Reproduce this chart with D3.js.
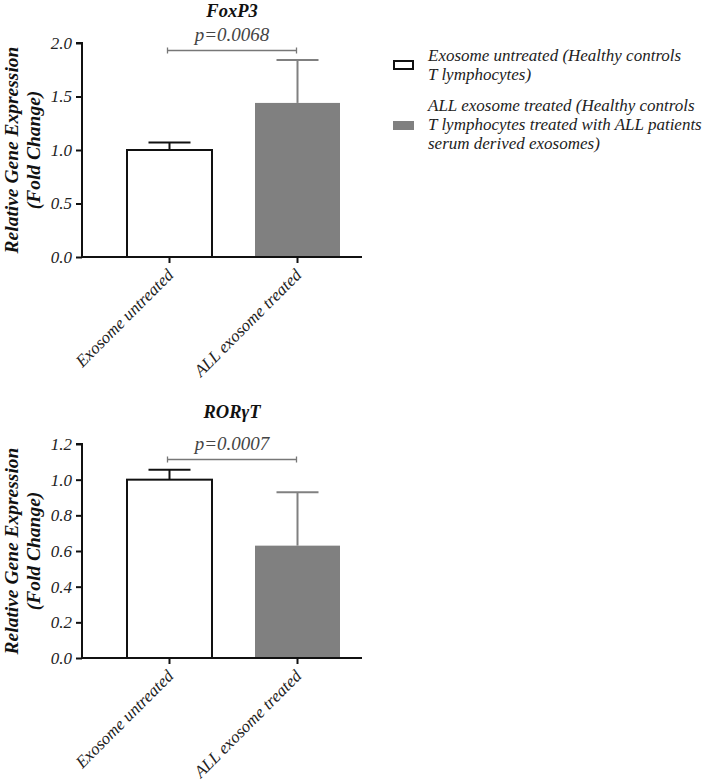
<!DOCTYPE html>
<html>
<head>
<meta charset="utf-8">
<script src="https://cdn.jsdelivr.net/npm/d3@7"></script>
<style>
  body { margin: 0; background: #fff; }
</style>
</head>
<body>
<svg id="chart" width="709" height="781"></svg>
<script>
var groups = ["Exosome untreated", "ALL exosome treated"];
var fillColors = ["#ffffff", "#808080"];

var foxp3Means = [1.0, 1.44];
var foxp3Errors = [0.07, 0.40];
var foxp3Ticks = [0, 0.5, 1.0, 1.5, 2.0];

var rorMeans = [1.0, 0.63];
var rorErrors = [0.055, 0.30];
var rorTicks = [0, 0.2, 0.4, 0.6, 0.8, 1.0, 1.2];

var legendLabels = [
  ["Exosome untreated (Healthy controls", "T lymphocytes)"],
  ["ALL exosome treated (Healthy controls", "T lymphocytes treated with ALL patients", "serum derived exosomes)"]
];

var FONT = "Liberation Serif";
var svg = d3.select("#chart");

function translate(x, y) {
  return "translate(" + x + "," + y + ")";
}

function serif(sel, size, bold) {
  return sel.attr("font-family", FONT)
    .attr("font-style", "italic")
    .attr("font-weight", bold ? "bold" : "normal")
    .attr("font-size", size);
}

var drawPanel = function(opts) {
  var x0 = 82, x1 = 362;
  var top = opts.top, bottom = opts.bottom;

  var xScale = d3.scaleBand()
    .domain(groups)
    .range([127, 340])
    .paddingInner(0.336)
    .paddingOuter(0);

  var yScale = d3.scaleLinear()
    .domain([0, opts.max])
    .range([bottom, top]);

  var g = svg.append("g");

  // bars
  g.selectAll(".bar")
    .data(groups)
    .enter()
    .append("rect")
    .attr("class", "bar")
    .attr("x", function(d) { return xScale(d); })
    .attr("width", xScale.bandwidth())
    .attr("y", function(d, i) { return yScale(opts.means[i]); })
    .attr("height", function(d, i) { return bottom - yScale(opts.means[i]); })
    .attr("fill", function(d, i) { return fillColors[i]; })
    .attr("stroke", function(d, i) { return i == 0 ? "#111" : "none"; })
    .attr("stroke-width", 2);

  // error bars (upper only)
  var errs = g.selectAll(".err")
    .data(groups)
    .enter()
    .append("g")
    .attr("class", "err")
    .attr("stroke", function(d, i) { return i == 0 ? "#111" : "#808080"; })
    .attr("stroke-width", 2);

  errs.append("line")
    .attr("x1", function(d) { return xScale(d) + xScale.bandwidth() / 2; })
    .attr("x2", function(d) { return xScale(d) + xScale.bandwidth() / 2; })
    .attr("y1", function(d, i) { return yScale(opts.means[i]); })
    .attr("y2", function(d, i) { return yScale(opts.means[i] + opts.errors[i]); });

  errs.append("line")
    .attr("x1", function(d) { return xScale(d) + xScale.bandwidth() / 2 - 21; })
    .attr("x2", function(d) { return xScale(d) + xScale.bandwidth() / 2 + 21; })
    .attr("y1", function(d, i) { return yScale(opts.means[i] + opts.errors[i]); })
    .attr("y2", function(d, i) { return yScale(opts.means[i] + opts.errors[i]); });

  // y axis
  var yAxis = d3.axisLeft(yScale)
    .tickValues(opts.ticks)
    .tickSize(6)
    .tickPadding(4)
    .tickFormat(d3.format(".1f"));

  var yg = g.append("g")
    .attr("transform", translate(x0, 0))
    .call(yAxis);
  yg.select(".domain").attr("stroke", "#111").attr("stroke-width", 2).attr("d", "M-6," + top + "H0V" + bottom);
  yg.selectAll(".tick line").attr("stroke", "#111").attr("stroke-width", 2);
  serif(yg.selectAll(".tick text"), 17).attr("fill", "#222");

  // x axis
  var xAxis = d3.axisBottom(xScale).tickSize(6).tickSizeOuter(0).tickFormat("");
  var xg = g.append("g")
    .attr("transform", translate(0, bottom))
    .call(xAxis);
  xg.select(".domain").attr("stroke", "#111").attr("stroke-width", 2).attr("d", "M" + (x0 - 1) + ",0H" + x1);
  xg.selectAll(".tick line").attr("stroke", "#111").attr("stroke-width", 2);

  serif(g.selectAll(".xlabel")
    .data(groups)
    .enter()
    .append("text")
    .attr("class", "xlabel")
    .attr("text-anchor", "end")
    .attr("fill", "#222")
    .attr("transform", function(d) {
      return translate(xScale(d) + xScale.bandwidth() / 2 + 5, bottom + 19) + " rotate(-45)";
    })
    .text(function(d) { return d; }), 17);

  // title
  serif(g.append("text")
    .attr("x", 232)
    .attr("y", opts.titleY)
    .attr("text-anchor", "middle")
    .attr("fill", "#111")
    .text(opts.title), 18.5, true);

  // significance bracket
  var bx1 = xScale(groups[0]) + xScale.bandwidth() / 2 - 2;
  var bx2 = xScale(groups[1]) + xScale.bandwidth() / 2 - 1;
  var by = opts.bracketY;
  g.append("path")
    .attr("d", "M" + bx1 + "," + (by - 3) + "V" + (by + 3) + "M" + bx1 + "," + by + "H" + bx2 + "M" + bx2 + "," + (by - 3) + "V" + (by + 3))
    .attr("fill", "none")
    .attr("stroke", "#777")
    .attr("stroke-width", 1.3);

  serif(g.append("text")
    .attr("x", (bx1 + bx2) / 2)
    .attr("y", by - 10)
    .attr("text-anchor", "middle")
    .attr("fill", "#444")
    .text(opts.pText), 19);

  // y label
  var yl = g.append("g")
    .attr("transform", translate(0, opts.labelY) + " rotate(-90)");
  serif(yl.append("text")
    .attr("x", 0)
    .attr("y", 18)
    .attr("text-anchor", "middle")
    .attr("fill", "#111")
    .text("Relative Gene Expression"), 19.5, true);
  serif(yl.append("text")
    .attr("x", 0)
    .attr("y", 40)
    .attr("text-anchor", "middle")
    .attr("fill", "#111")
    .text("(Fold Change)"), 19.5, true);
};

drawPanel({
  title: "FoxP3", titleY: 17,
  means: foxp3Means, errors: foxp3Errors, ticks: foxp3Ticks, max: 2.0,
  top: 43, bottom: 257,
  bracketY: 50.5, pText: "p=0.0068",
  labelY: 150
});

drawPanel({
  title: "RORγT", titleY: 418,
  means: rorMeans, errors: rorErrors, ticks: rorTicks, max: 1.2,
  top: 444, bottom: 658,
  bracketY: 459.5, pText: "p=0.0007",
  labelY: 551
});

// legend
var legend = svg.append("g").attr("transform", translate(393, 0));
var legendY = [65, 125];
var legendLineH = 19;

legendLabels.forEach(function(lines, i) {
  var item = legend.append("g").attr("transform", translate(0, legendY[i]));
  item.append("rect")
    .attr("x", i == 0 ? 1 : 0)
    .attr("y", -4)
    .attr("width", i == 0 ? 19 : 21)
    .attr("height", i == 0 ? 8 : 9)
    .attr("fill", fillColors[i])
    .attr("stroke", i == 0 ? "#111" : "none")
    .attr("stroke-width", 2);
  var first = -(lines.length - 1) / 2 * legendLineH;
  serif(item.selectAll("text")
    .data(lines)
    .enter()
    .append("text")
    .attr("x", 35)
    .attr("y", function(d, k) { return first + k * legendLineH + 5; })
    .attr("fill", "#222")
    .text(function(d) { return d; }), 17);
});
</script>
</body>
</html>
